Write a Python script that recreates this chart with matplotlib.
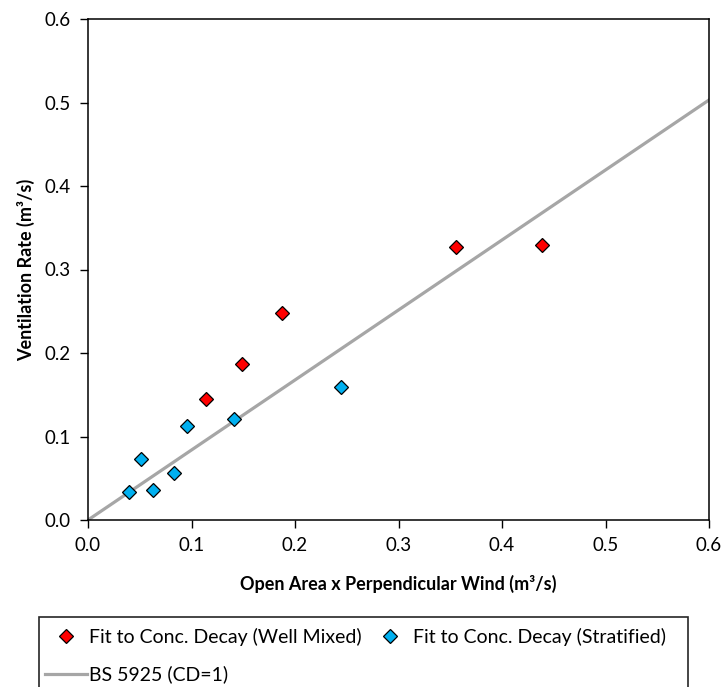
import matplotlib.pyplot as plt
from matplotlib.patches import Rectangle

plt.rcParams['font.family'] = ['Lato', 'DejaVu Sans']

# data
mixed_x = [0.114, 0.149, 0.187, 0.356, 0.439]
mixed_y = [0.145, 0.187, 0.248, 0.327, 0.329]
strat_x = [0.040, 0.051, 0.063, 0.083, 0.096, 0.141, 0.244]
strat_y = [0.033, 0.073, 0.036, 0.056, 0.112, 0.121, 0.159]
bs_x = [0.0, 0.6]
bs_y = [0.0, 0.503]
ticks = [0.0, 0.1, 0.2, 0.3, 0.4, 0.5, 0.6]

W, H = 724, 687
fig = plt.figure(figsize=(W / 100, H / 100), dpi=100)
ax = fig.add_axes([88 / W, 1 - 520 / H, (709 - 88) / W, (520 - 19) / H])

line, = ax.plot(bs_x, bs_y, color='#a6a6a6', lw=2.3, label='BS 5925 (CD=1)', zorder=2)
red, = ax.plot(mixed_x, mixed_y, ls='none', marker='D', ms=7.6, mfc='#ff0000', mec='black',
               mew=0.9, label='Fit to Conc. Decay (Well Mixed)', zorder=3)
blue, = ax.plot(strat_x, strat_y, ls='none', marker='D', ms=7.6, mfc='#00b0f0', mec='black',
                mew=0.9, label='Fit to Conc. Decay (Stratified)', zorder=3)

ax.set_xlim(0, 0.6)
ax.set_ylim(0, 0.6)
ax.set_xticks(ticks)
ax.set_yticks(ticks)
ax.set_xticklabels([f'{t:.1f}' for t in ticks])
ax.set_yticklabels([f'{t:.1f}' for t in ticks])
ax.tick_params(direction='out', length=5.5, width=1, labelsize=13.5, colors='black', pad=7)
for s in ax.spines.values():
    s.set_linewidth(1.1)

ax.set_xlabel('Open Area x Perpendicular Wind (m³/s)', fontsize=13, fontweight='bold', labelpad=15)
ax.set_ylabel('Ventilation Rate (m³/s)', fontsize=13, fontweight='bold', labelpad=7)

# legend frame runs off the bottom of the picture, as in the original
fig.patches.append(Rectangle((39 / W, -0.1), (688 - 39) / W, (H - 617) / H + 0.1,
                             transform=fig.transFigure, fill=False, ec='#262626', lw=1.2))
leg = fig.legend(handles=[red, line, blue], loc='upper left', ncol=2,
                 bbox_to_anchor=(45 / W, 1 - 628 / H),
                 fontsize=14, frameon=False, handlelength=2.15, handletextpad=0.1,
                 borderpad=0, labelspacing=1.0, columnspacing=0.4, borderaxespad=0)

fig.savefig('out.png', dpi=100)
